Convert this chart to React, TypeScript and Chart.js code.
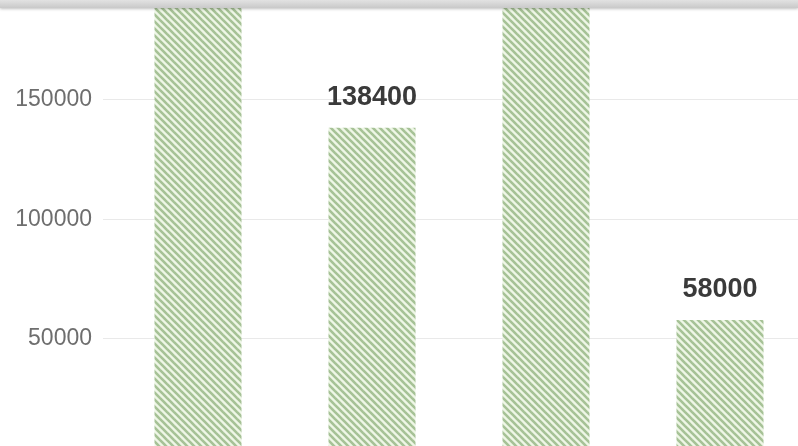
import React, { useEffect, useRef } from "react";
import { Chart, registerables } from "chart.js";

Chart.register(...registerables);

const categories = ["A", "B", "C", "D"];
const values = [215000, 138400, 212000, 58000];
const yTicks = [50000, 100000, 150000];
const yMin = 5230;
const yMax = 191840;

function makePattern(): CanvasPattern | string {
  const s = 7;
  const c = document.createElement("canvas");
  c.width = s;
  c.height = s;
  const ctx = c.getContext("2d");
  if (!ctx) return "#b9d3a8";
  ctx.fillStyle = "#eef6e6";
  ctx.fillRect(0, 0, s, s);
  ctx.strokeStyle = "#a6c296";
  ctx.lineWidth = 2.6;
  ctx.lineCap = "square";
  for (let k = -1; k <= 1; k++) {
    ctx.beginPath();
    ctx.moveTo(k * s - 2, -2);
    ctx.lineTo(k * s + s + 2, s + 2);
    ctx.stroke();
  }
  const p = ctx.createPattern(c, "repeat");
  return p || "#b9d3a8";
}

const labelPlugin = {
  id: "barLabels",
  afterDatasetsDraw(chart: any) {
    const ctx = chart.ctx;
    const meta = chart.getDatasetMeta(0);
    ctx.save();
    ctx.font = "bold 27px 'Liberation Sans', Arial, sans-serif";
    ctx.fillStyle = "#3a3a3a";
    ctx.textAlign = "center";
    ctx.textBaseline = "middle";
    meta.data.forEach((el: any, i: number) => {
      const v = chart.data.datasets[0].data[i];
      ctx.fillText(String(v), el.x, el.y - 30);
    });
    ctx.restore();
  },
};

export default function App() {
  const ref = useRef<HTMLCanvasElement>(null);
  useEffect(() => {
    document.body.style.margin = "0";
    if (!ref.current) return;
    const chart = new Chart(ref.current, {
      type: "bar",
      data: {
        labels: categories,
        datasets: [
          {
            data: values,
            backgroundColor: makePattern() as any,
            borderWidth: 0,
            barPercentage: 0.5,
            categoryPercentage: 1,
          },
        ],
      },
      options: {
        responsive: false,
        animation: false,
        layout: { padding: { left: 0, right: 23, top: 0, bottom: 0 } },
        plugins: { legend: { display: false }, tooltip: { enabled: false } },
        scales: {
          x: { display: false },
          y: {
            min: yMin,
            max: yMax,
            afterBuildTicks(scale: any) {
              scale.ticks = yTicks.map((v) => ({ value: v }));
            },
            afterFit(scale: any) {
              scale.width = 111;
              scale.paddingTop = 0;
              scale.paddingBottom = 0;
            },
            border: { display: false },
            grid: { color: "#e9e9e9", tickLength: 8, drawTicks: true },
            ticks: {
              padding: 11,
              color: "#6e6e6e",
              font: { size: 23, family: "'Liberation Sans', Arial, sans-serif" },
              callback: (v: any) => String(v),
            },
          },
        },
      },
      plugins: [labelPlugin],
    });
    return () => chart.destroy();
  }, []);
  return (
    <div style={{ position: "relative", width: 798, height: 446, overflow: "hidden", background: "#fff" }}>
      <canvas ref={ref} width={830} height={446} style={{ display: "block" }} />
      <div
        style={{
          position: "absolute",
          left: 0,
          top: 0,
          width: 798,
          height: 8,
          background: "linear-gradient(#e2e2e2, #c9c9c9)",
          boxShadow: "0 1px 3px rgba(0,0,0,0.25)",
        }}
      />
    </div>
  );
}
